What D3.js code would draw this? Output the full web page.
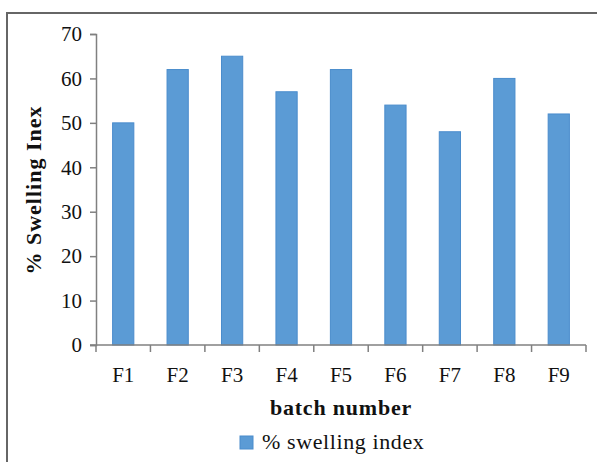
<!DOCTYPE html>
<html>
<head>
<meta charset="utf-8">
<script src="https://d3js.org/d3.v7.min.js"></script>
<style>
 body { margin: 0; background: #fff; }
 text { font-family: "Liberation Serif", "Times New Roman", serif; }
</style>
</head>
<body>
<svg width="597" height="462"></svg>
<script>
 var batches = ["F1", "F2", "F3", "F4", "F5", "F6", "F7", "F8", "F9"];
 var swelling = [50, 62, 65, 57, 62, 54, 48, 60, 52];
 var yTicks = [0, 10, 20, 30, 40, 50, 60, 70];

 var svg = d3.select("svg");

 // frame: top and left edges only, as in the reference
 svg.append("path").attr("d", "M 7 462 L 7 13 L 597 13")
    .attr("fill", "none").attr("stroke", "#666").attr("stroke-width", 2);

 var x = d3.scaleBand().domain(batches).range([96, 586]).paddingInner(0.61).paddingOuter(0.305);
 var y = d3.scaleLinear().domain([0, 70]).range([345, 34]);

 var bars = svg.append("g");
 bars.selectAll("rect")
    .data(batches)
    .enter()
    .append("rect")
    .attr("x", function (d) { return x(d); })
    .attr("y", function (d, i) { return y(swelling[i]); })
    .attr("width", x.bandwidth())
    .attr("height", function (d, i) { return y(0) - y(swelling[i]); })
    .attr("fill", "#5b9bd5")
    .attr("stroke", "#4a8ccc")
    .attr("stroke-width", 1);

 var yAxis = svg.append("g").attr("transform", "translate(96,0)")
    .call(d3.axisLeft(y).tickValues(yTicks).tickSize(6).tickPadding(8));
 yAxis.selectAll("text").attr("font-size", "21px").attr("fill", "#111")
    .attr("font-family", "Liberation Serif");
 yAxis.select(".domain").attr("stroke", "#808080").attr("stroke-width", 1.5);
 yAxis.selectAll(".tick line").attr("stroke", "#808080").attr("stroke-width", 1.5);

 var xTickPos = d3.range(batches.length + 1).map(function (i) { return 96 + i * x.step(); });
 var xAxis = svg.append("g");
 xAxis.append("line").attr("x1", 90).attr("x2", 586).attr("y1", 345).attr("y2", 345)
    .attr("stroke", "#808080").attr("stroke-width", 1.5);
 xAxis.selectAll(".tk").data(xTickPos).enter().append("line")
    .attr("x1", function (d) { return d; }).attr("x2", function (d) { return d; })
    .attr("y1", 345).attr("y2", 352)
    .attr("stroke", "#808080").attr("stroke-width", 1.5);
 xAxis.selectAll("text").data(batches).enter().append("text")
    .attr("x", function (d) { return x(d) + x.bandwidth() / 2; })
    .attr("y", 382)
    .attr("text-anchor", "middle")
    .attr("font-size", "21px").attr("fill", "#111")
    .text(function (d) { return d; });

 svg.append("text").attr("x", 341).attr("y", 415)
    .attr("text-anchor", "middle").attr("font-weight", "bold")
    .attr("font-size", "22px").attr("letter-spacing", "0.8px").attr("fill", "#111")
    .text("batch number");

 svg.append("text").attr("transform", "translate(41,190) rotate(-90)")
    .attr("text-anchor", "middle").attr("font-weight", "bold")
    .attr("font-size", "22px").attr("letter-spacing", "1px").attr("fill", "#111")
    .text("% Swelling Inex");

 svg.append("rect").attr("x", 240).attr("y", 436).attr("width", 13).attr("height", 13)
    .attr("fill", "#5b9bd5").attr("stroke", "#4a8ccc");
 svg.append("text").attr("x", 262).attr("y", 449)
    .attr("font-size", "22px").attr("letter-spacing", "0.6px").attr("fill", "#111")
    .text("% swelling index");
</script>
</body>
</html>
